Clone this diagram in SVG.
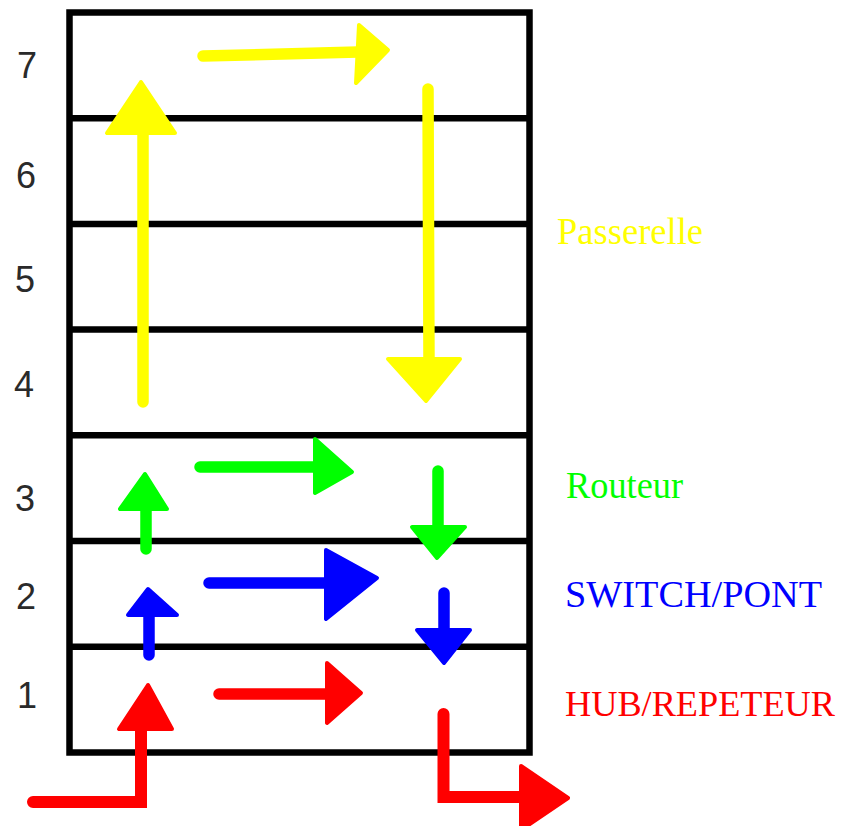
<svg xmlns="http://www.w3.org/2000/svg" width="845" height="826" viewBox="0 0 845 826">
<style>
.grid{fill:none;stroke:#000;stroke-width:6.5}
.num{font-family:"Liberation Sans",Arial,sans-serif;font-size:36px;fill:#2a2a2a;text-anchor:middle}
.lbl{font-family:"Liberation Serif","Times New Roman",serif;font-size:37px}
.shaft{fill:none;stroke-width:11.5;stroke-linecap:round}
.elbow{fill:none;stroke-width:12;stroke-linecap:round;stroke-linejoin:miter}
.head{stroke-width:4;stroke-linejoin:round}
.y{stroke:#ffff00;fill:#ffff00}
.g{stroke:#00ff00;fill:#00ff00}
.b{stroke:#0000ff;fill:#0000ff}
.r{stroke:#ff0000;fill:#ff0000}
.shaft.y,.shaft.g,.shaft.b,.shaft.r,.elbow.r{fill:none}
</style>
<rect width="845" height="826" fill="#fff"/>
<g id="layers">
<rect class="grid" x="69.5" y="12.5" width="460" height="740"/>
<path class="grid" d="M72 118.2H527M72 223.9H527M72 329.6H527M72 435.3H527M72 541H527M72 646.7H527"/>
</g>
<g id="layer-numbers">
<text class="num" x="27" y="78">7</text>
<text class="num" x="26" y="188">6</text>
<text class="num" x="25" y="292">5</text>
<text class="num" x="24" y="397">4</text>
<text class="num" x="25" y="511">3</text>
<text class="num" x="26" y="609">2</text>
<text class="num" x="27" y="708">1</text>
</g>
<g id="device-labels">
<text id="passerelle" class="lbl" x="557" y="244" fill="#ffff00" textLength="146" lengthAdjust="spacingAndGlyphs">Passerelle</text>
<text id="routeur" class="lbl" x="566" y="498" fill="#00ff00" textLength="117" lengthAdjust="spacingAndGlyphs">Routeur</text>
<text id="switch" class="lbl" x="565" y="607" fill="#0000ff" textLength="257" lengthAdjust="spacingAndGlyphs">SWITCH/PONT</text>
<text id="hub" class="lbl" x="565" y="716" fill="#ff0000" style="font-size:36px" textLength="270" lengthAdjust="spacingAndGlyphs">HUB/REPETEUR</text>
</g>
<g id="connectors">
<g id="passerelle-path">
<path class="shaft y" d="M143 402V130"/>
<polygon class="head y" points="141,82 107,133 175,133"/>
<path class="shaft y" d="M203 56L358 52"/>
<polygon class="head y" points="359,25 388,50 356,83"/>
<path class="shaft y" d="M428 89L429 362"/>
<polygon class="head y" points="388,359 460,359 426,401"/>
</g>
<g id="routeur-path">
<path class="shaft g" d="M146 549V508"/>
<polygon class="head g" points="145,474 120,509 167,509"/>
<path class="shaft g" d="M200 467H318"/>
<polygon class="head g" points="315,439 352,472 315,493"/>
<path class="shaft g" d="M438 471V529"/>
<polygon class="head g" points="412,527 465,527 437,558"/>
</g>
<g id="switch-path">
<path class="shaft b" d="M149 655V613"/>
<polygon class="head b" points="148,589 128,615 177,615"/>
<path class="shaft b" d="M209 583H328"/>
<polygon class="head b" points="326,550 377,578 326,619"/>
<path class="shaft b" d="M444 593V632"/>
<polygon class="head b" points="417,630 470,630 444,663"/>
</g>
<g id="hub-path">
<path class="elbow r" d="M33 802H141V727"/>
<polygon class="head r" points="148,685 119,729 172,729"/>
<path class="shaft r" d="M219 694H329"/>
<polygon class="head r" points="327,663 361,693 327,723"/>
<path class="elbow r" d="M443.5 714V797H523"/>
<polygon class="head r" points="521,766 568,798 521,830"/>
</g>
</g>
</svg>
